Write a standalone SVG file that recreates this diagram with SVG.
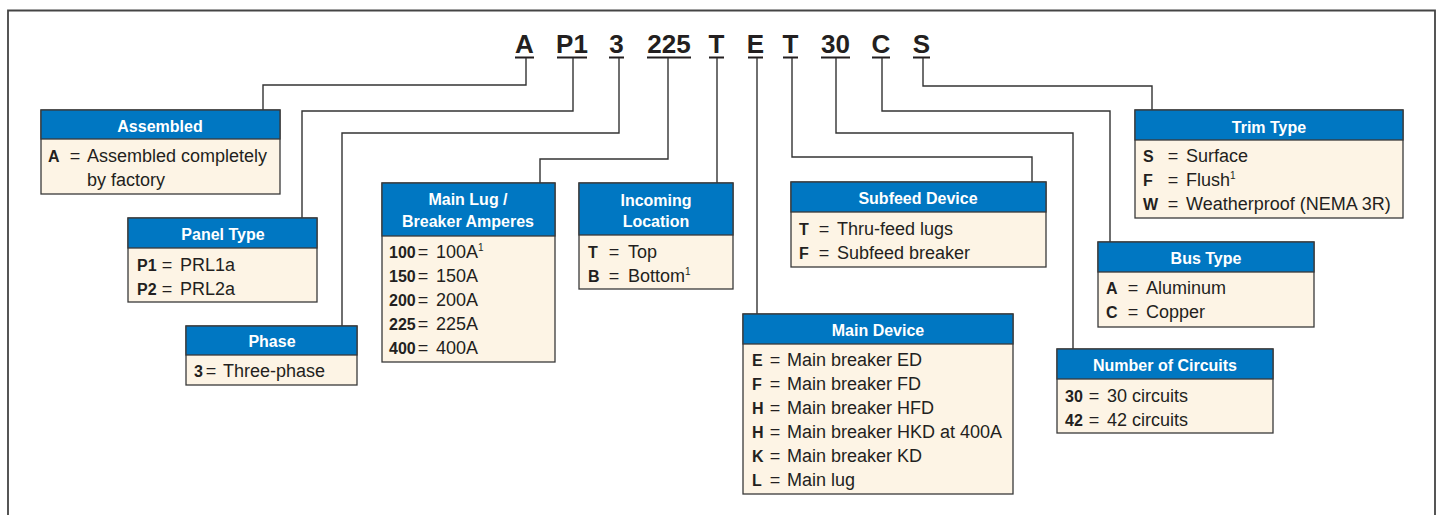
<svg xmlns="http://www.w3.org/2000/svg" width="1441" height="515" viewBox="0 0 1441 515">
<style>
text{font-family:"Liberation Sans",Arial,sans-serif;fill:#231f20}
.code{font-size:26px;font-weight:bold;text-anchor:middle}
.hd{font-size:16px;font-weight:bold;fill:#fff;text-anchor:middle}
.b{font-size:18px}
.k{font-size:16px;font-weight:bold}
.eq{font-size:18px;text-anchor:middle}
.sup{font-size:10px}
.box{fill:#fdf4e5;stroke:#3a3a3a;stroke-width:1.3}
.head{fill:#0077c2;stroke:#3a3a3a;stroke-width:1.3}
.ul{fill:#231f20}
#connectors path{fill:none;stroke:#333;stroke-width:1.4}
</style>
<path d="M8,515 V10.5 H1435 V515" fill="none" stroke="#444" stroke-width="1.8"/>
<g id="code">
<text class="code" x="524.5" y="53">A</text><rect class="ul" x="515" y="56.5" width="19" height="2"/>
<text class="code" x="572" y="53">P1</text><rect class="ul" x="557" y="56.5" width="30" height="2"/>
<text class="code" x="616.5" y="53">3</text><rect class="ul" x="609" y="56.5" width="15" height="2"/>
<text class="code" x="669" y="53">225</text><rect class="ul" x="647" y="56.5" width="44" height="2"/>
<text class="code" x="716.5" y="53">T</text><rect class="ul" x="709" y="56.5" width="15" height="2"/>
<text class="code" x="755.5" y="53">E</text><rect class="ul" x="748" y="56.5" width="15" height="2"/>
<text class="code" x="790.5" y="53">T</text><rect class="ul" x="783" y="56.5" width="15" height="2"/>
<text class="code" x="835.5" y="53">30</text><rect class="ul" x="821" y="56.5" width="29" height="2"/>
<text class="code" x="881" y="53">C</text><rect class="ul" x="872" y="56.5" width="18" height="2"/>
<text class="code" x="921.5" y="53">S</text><rect class="ul" x="913" y="56.5" width="17" height="2"/>
</g>
<g id="connectors">
<path d="M526,58 V85 H263 V110"/>
<path d="M573,58 V111 H302 V218"/>
<path d="M619,58 V133 H342 V326"/>
<path d="M668,58 V159 H540 V183"/>
<path d="M717,58 V183"/>
<path d="M757,58 V314"/>
<path d="M792,58 V157 H1032 V182"/>
<path d="M836,58 V133 H1073 V349"/>
<path d="M882,58 V111 H1110 V242"/>
<path d="M923,58 V86 H1152 V110"/>
</g>
<g id="assembled">
<rect class="box" x="41" y="110" width="239" height="84"/>
<rect class="head" x="41" y="110" width="239" height="29"/>
<text class="hd" x="160" y="132">Assembled</text>
<text class="k" x="48" y="162">A</text><text class="eq" x="75" y="162">=</text><text class="b" x="87" y="162">Assembled completely</text>
<text class="b" x="87" y="186">by factory</text>
</g>
<g id="panel-type">
<rect class="box" x="128" y="218" width="189" height="84"/>
<rect class="head" x="128" y="218" width="189" height="30"/>
<text class="hd" x="223" y="240">Panel Type</text>
<text class="k" x="137" y="271">P1</text><text class="eq" x="167" y="271">=</text><text class="b" x="180" y="271">PRL1a</text>
<text class="k" x="137" y="295">P2</text><text class="eq" x="167" y="295">=</text><text class="b" x="180" y="295">PRL2a</text>
</g>
<g id="phase">
<rect class="box" x="186" y="326" width="171" height="59"/>
<rect class="head" x="186" y="326" width="171" height="29"/>
<text class="hd" x="272" y="347">Phase</text>
<text class="k" x="194" y="377">3</text><text class="eq" x="211" y="377">=</text><text class="b" x="223" y="377">Three-phase</text>
</g>
<g id="main-lug">
<rect class="box" x="382" y="183" width="173" height="179"/>
<rect class="head" x="382" y="183" width="173" height="53"/>
<text class="hd" x="468" y="205">Main Lug /</text>
<text class="hd" x="468" y="227">Breaker Amperes</text>
<text class="k" x="389" y="258">100</text><text class="eq" x="423" y="258">=</text><text class="b" x="436" y="258">100A<tspan class="sup" dy="-7">1</tspan></text>
<text class="k" x="389" y="282">150</text><text class="eq" x="423" y="282">=</text><text class="b" x="436" y="282">150A</text>
<text class="k" x="389" y="306">200</text><text class="eq" x="423" y="306">=</text><text class="b" x="436" y="306">200A</text>
<text class="k" x="389" y="330">225</text><text class="eq" x="423" y="330">=</text><text class="b" x="436" y="330">225A</text>
<text class="k" x="389" y="354">400</text><text class="eq" x="423" y="354">=</text><text class="b" x="436" y="354">400A</text>
</g>
<g id="incoming-location">
<rect class="box" x="579" y="183" width="154" height="106"/>
<rect class="head" x="579" y="183" width="154" height="52"/>
<text class="hd" x="656" y="206">Incoming</text>
<text class="hd" x="656" y="227">Location</text>
<text class="k" x="588" y="258">T</text><text class="eq" x="614" y="258">=</text><text class="b" x="628" y="258">Top</text>
<text class="k" x="588" y="282">B</text><text class="eq" x="614" y="282">=</text><text class="b" x="628" y="282">Bottom<tspan class="sup" dy="-7">1</tspan></text>
</g>
<g id="subfeed-device">
<rect class="box" x="791" y="182" width="255" height="85"/>
<rect class="head" x="791" y="182" width="255" height="30"/>
<text class="hd" x="918" y="204">Subfeed Device</text>
<text class="k" x="799" y="235">T</text><text class="eq" x="824" y="235">=</text><text class="b" x="837" y="235">Thru-feed lugs</text>
<text class="k" x="799" y="259">F</text><text class="eq" x="824" y="259">=</text><text class="b" x="837" y="259">Subfeed breaker</text>
</g>
<g id="main-device">
<rect class="box" x="743" y="314" width="270" height="180"/>
<rect class="head" x="743" y="314" width="270" height="30"/>
<text class="hd" x="878" y="336">Main Device</text>
<text class="k" x="752" y="366">E</text><text class="eq" x="775" y="366">=</text><text class="b" x="787" y="366">Main breaker ED</text>
<text class="k" x="752" y="390">F</text><text class="eq" x="775" y="390">=</text><text class="b" x="787" y="390">Main breaker FD</text>
<text class="k" x="752" y="414">H</text><text class="eq" x="775" y="414">=</text><text class="b" x="787" y="414">Main breaker HFD</text>
<text class="k" x="752" y="438">H</text><text class="eq" x="775" y="438">=</text><text class="b" x="787" y="438">Main breaker HKD at 400A</text>
<text class="k" x="752" y="462">K</text><text class="eq" x="775" y="462">=</text><text class="b" x="787" y="462">Main breaker KD</text>
<text class="k" x="752" y="486">L</text><text class="eq" x="775" y="486">=</text><text class="b" x="787" y="486">Main lug</text>
</g>
<g id="trim-type">
<rect class="box" x="1135" y="110" width="268" height="108"/>
<rect class="head" x="1135" y="110" width="268" height="30"/>
<text class="hd" x="1269" y="133">Trim Type</text>
<text class="k" x="1143" y="162">S</text><text class="eq" x="1173" y="162">=</text><text class="b" x="1186" y="162">Surface</text>
<text class="k" x="1143" y="186">F</text><text class="eq" x="1173" y="186">=</text><text class="b" x="1186" y="186">Flush<tspan class="sup" dy="-7">1</tspan></text>
<text class="k" x="1143" y="210">W</text><text class="eq" x="1173" y="210">=</text><text class="b" x="1186" y="210">Weatherproof (NEMA 3R)</text>
</g>
<g id="bus-type">
<rect class="box" x="1098" y="242" width="216" height="85"/>
<rect class="head" x="1098" y="242" width="216" height="30"/>
<text class="hd" x="1206" y="264">Bus Type</text>
<text class="k" x="1106" y="294">A</text><text class="eq" x="1133" y="294">=</text><text class="b" x="1146" y="294">Aluminum</text>
<text class="k" x="1106" y="318">C</text><text class="eq" x="1133" y="318">=</text><text class="b" x="1146" y="318">Copper</text>
</g>
<g id="number-of-circuits">
<rect class="box" x="1057" y="349" width="216" height="84"/>
<rect class="head" x="1057" y="349" width="216" height="30"/>
<text class="hd" x="1165" y="371">Number of Circuits</text>
<text class="k" x="1065" y="402">30</text><text class="eq" x="1094" y="402">=</text><text class="b" x="1107" y="402">30 circuits</text>
<text class="k" x="1065" y="426">42</text><text class="eq" x="1094" y="426">=</text><text class="b" x="1107" y="426">42 circuits</text>
</g>
</svg>
